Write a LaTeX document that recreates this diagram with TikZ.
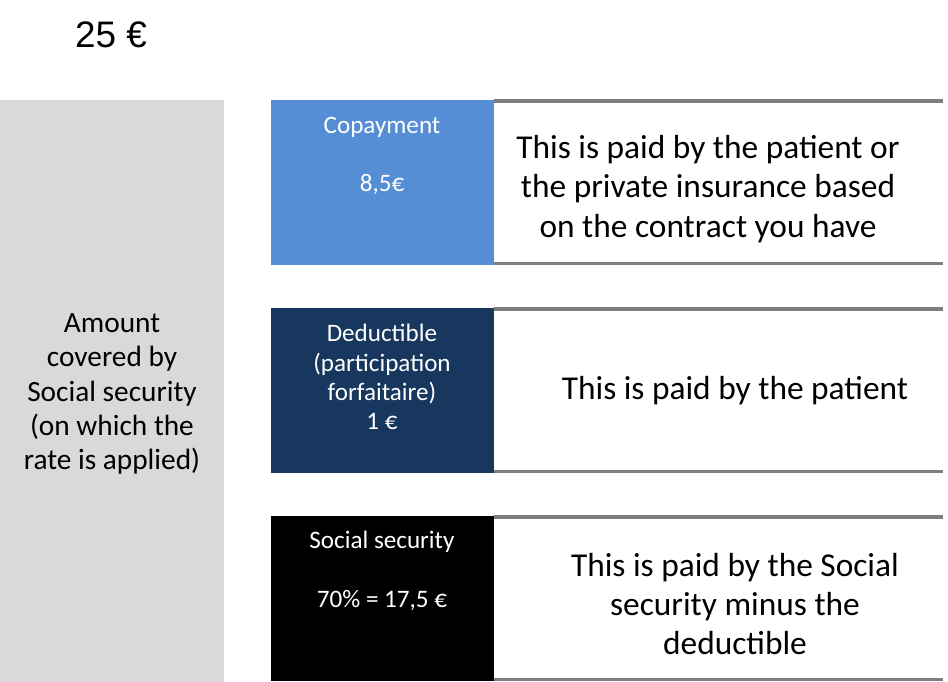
\documentclass[tikz,border=0pt]{standalone}
\usepackage{fontspec}
\setmainfont{Carlito}
\newfontfamily\arialfont{Liberation Sans}
\usetikzlibrary{positioning}
\definecolor{basegray}{HTML}{D9D9D9}
\definecolor{copayblue}{HTML}{558ED5}
\definecolor{deducnavy}{HTML}{17375E}
\definecolor{rulegray}{HTML}{7F7F7F}

\begin{document}
\begin{tikzpicture}[
  x=0.02cm, y=-0.02cm,
  partB/.style={
    anchor=north west, inner sep=0pt, minimum width=4.46cm, minimum height=3.3cm,
  },
  noteB/.style={
    anchor=north west, inner sep=0pt, minimum width=8.96cm, minimum height=3.24cm,
  },
  partT/.style={
    align=center, text=white, inner sep=0pt, font=\fontsize{14.3}{16.6}\selectfont,
  },
  noteT/.style={
    align=center, inner sep=0pt, font=\fontsize{19}{22.4}\selectfont,
  },
  rule/.style={draw=rulegray, line width=1.8pt},
]
\useasboundingbox (0,0) rectangle (948,682);

% total amount
\node[font=\arialfont\fontsize{21}{24}\selectfont] (total) at (111,35) {25 €};

% base covered by social security
\node[partB, fill=basegray, minimum width=4.48cm, minimum height=11.64cm] (base) at (0,100) {};
\node[align=center, font=\fontsize{16.7}{19.6}\selectfont] (baseT) at (112,394)
  {Amount\\covered by\\Social security\\(on which the\\rate is applied)};

% the three parts
\node[partB, fill=copayblue] (copay) at (271,100) {};
\node[partB, fill=deducnavy] (deduc) at (271,308) {};
\node[partB, fill=black] (social) at (271,516) {};

\node[partT] (copayT) at (382,156) {Copayment\\[16.6pt]8,5€};
\node[partT] (deducT) at (382,377) {Deductible\\(participation\\forfaitaire)\\1 €};
\node[partT] (socialT) at (382,571) {Social security\\[16.6pt]70\% = 17,5 €};

% who pays what
\node[noteB] (copayN) at (494,101) {};
\node[noteB] (deducN) at (494,309) {};
\node[noteB] (socialN) at (494,517) {};
\foreach \n in {copayN,deducN,socialN} {
  \draw[rule] (\n.north west) -- (\n.north east);
  \draw[rule] (\n.south west) -- (\n.south east);
}

\node[noteT] (copayNT) at (708,189)
  {This is paid by the patient or\\the private insurance based\\on the contract you have};
\node[noteT] (deducNT) at (735,391) {This is paid by the patient};
\node[noteT] (socialNT) at (735,604)
  {This is paid by the Social\\security minus the\\deductible};

\end{tikzpicture}
\end{document}
